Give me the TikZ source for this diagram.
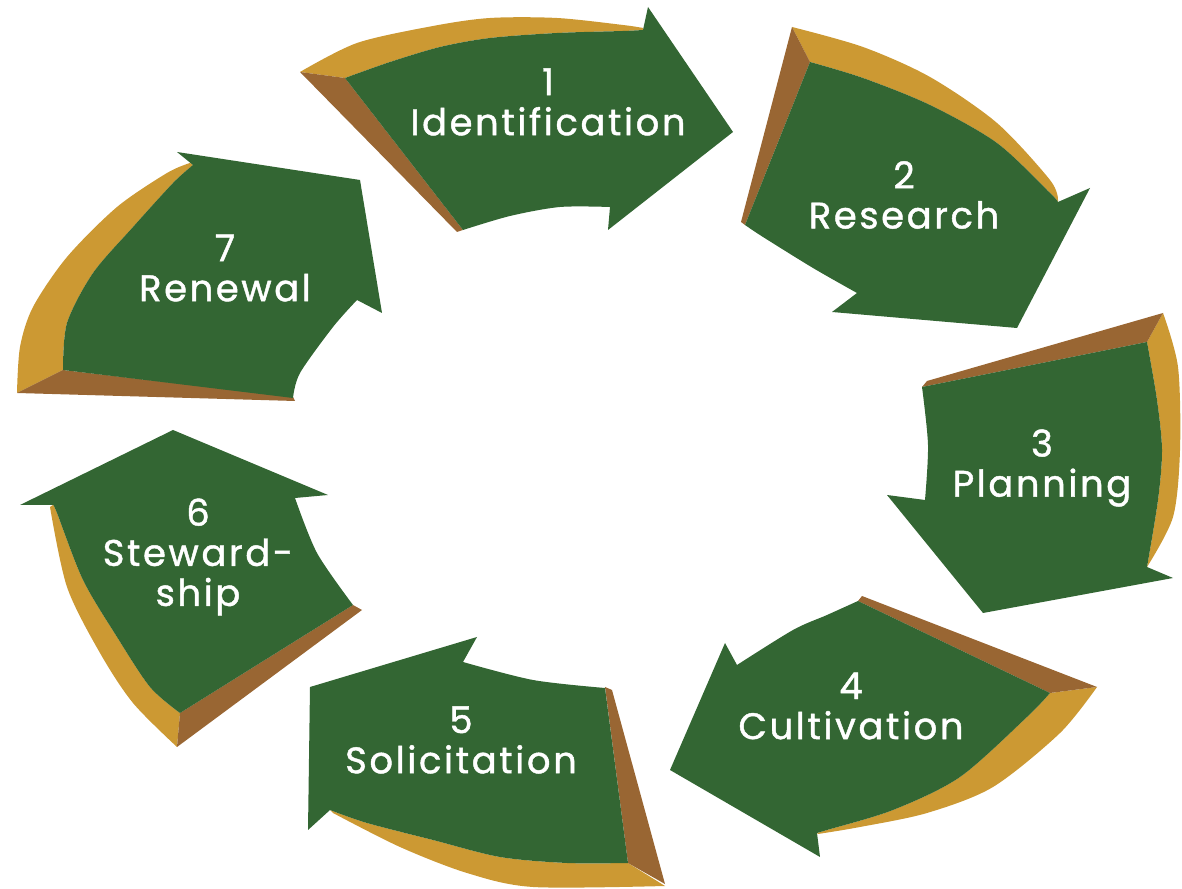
\documentclass[tikz,border=0pt]{standalone}
\usepackage{fontspec}
\usepackage{xcolor}
\newfontfamily\etiqfont{Poppins}[LetterSpace=7,FakeBold=1.2]
\definecolor{verde}{RGB}{51,102,51}
\definecolor{oro}{RGB}{204,153,51}
\definecolor{cafe}{RGB}{153,102,51}

\begin{document}
\begin{tikzpicture}[x=0.01cm, y=-0.01cm,
        cara/.style={fill=verde},
        borde/.style={fill=oro},
        cola/.style={fill=cafe},
        etiq/.style={text=white, align=center, inner sep=0pt,
          font=\etiqfont\fontsize{10.5}{11.4}\selectfont}]
      \useasboundingbox (0,0) rectangle (1182,889);
      % Flecha 1: lado exterior, cola y cara
      \fill[borde] plot[smooth] coordinates {(300,72) (357,43) (433,26) (490,18) (557,18) (623,25) (643,28)}
        -- plot[smooth] coordinates {(643,30) (623,31) (557,33) (490,38) (440,47) (390,62) (345,78)} -- cycle;
      \fill[cola] (300,72) -- (345,78) -- (463,230) -- (457,232) -- cycle;
      \fill[cara] (345,78) -- plot[smooth] coordinates {(345,78) (390,62) (440,47) (490,38) (557,33) (623,31) (643,30)}
        -- (648,7) -- (733,132) -- (608,230) -- (610,207)
        -- plot[smooth] coordinates {(610,207) (560,207) (510,216) (463,230)} -- cycle;
      % Flecha 2
      \fill[borde] plot[smooth] coordinates {(792,27) (863,47) (930,77) (997,123) (1050,180) (1058,200)}
        -- plot[smooth] coordinates {(1058,202) (1050,193) (997,143) (930,105) (863,78) (810,62)} -- cycle;
      \fill[cola] (792,27) -- (810,62) -- (745,225) -- (741,222) -- cycle;
      \fill[cara] (810,62) -- plot[smooth] coordinates {(810,62) (863,78) (930,105) (997,143) (1050,193) (1058,202)}
        -- (1090,188) -- (1017,328) -- (832,312) -- (857,293)
        -- plot[smooth] coordinates {(857,293) (813,268) (763,237) (745,225)} -- cycle;
      % Flecha 3
      \fill[borde] plot[smooth] coordinates {(1163,313) (1178,367) (1180,450) (1173,517) (1147,567)}
        -- plot[smooth] coordinates {(1147,567) (1158,500) (1162,450) (1157,400) (1147,342)} -- cycle;
      \fill[cola] (927,381) -- (1163,313) -- (1147,342) -- (922,387) -- cycle;
      \fill[cara] (922,387) -- plot[smooth] coordinates {(1147,342) (1157,400) (1162,450) (1158,500) (1147,567)}
        -- (1173,578) -- (983,613) -- (887,495) -- (925,500)
        -- plot[smooth] coordinates {(925,500) (928,445) (922,387)} -- cycle;
      % Flecha 4
      \fill[borde] plot[smooth] coordinates {(1097,687) (1060,733) (993,787) (927,813) (860,827) (818,834)}
        -- plot[smooth] coordinates {(817,833) (827,830) (893,810) (960,777) (1027,717) (1050,693)} -- cycle;
      \fill[cola] (862,596) -- (1097,687) -- (1050,693) -- (858,601) -- cycle;
      \fill[cara] (858,601) -- (1050,693)
        -- plot[smooth] coordinates {(1050,693) (1027,717) (960,777) (893,810) (827,830) (817,833)}
        -- (820,857) -- (670,770) -- (725,643) -- (737,665)
        -- plot[smooth] coordinates {(737,665) (793,630) (827,615) (858,601)} -- cycle;
      % Flecha 5
      \fill[borde] plot[smooth] coordinates {(665,886) (533,887) (467,873) (400,847) (333,813)}
        -- plot[smooth] coordinates {(330,810) (367,823) (433,840) (500,857) (567,863) (628,863)} -- cycle;
      \fill[cola] (605,687) -- (612,690) -- (665,884) -- (628,863) -- cycle;
      \fill[cara] (605,688) -- (628,863)
        -- plot[smooth] coordinates {(628,863) (567,863) (500,857) (433,840) (367,823) (330,810)}
        -- (308,830) -- (310,687) -- (477,637) -- (463,662)
        -- plot[smooth] coordinates {(463,662) (533,680) (605,688)} -- cycle;
      % Flecha 6
      \fill[borde] plot[smooth] coordinates {(177,747) (133,703) (100,653) (67,587) (50,507)}
        -- plot[smooth] coordinates {(53,505) (57,513) (83,580) (117,637) (150,687) (180,713)} -- cycle;
      \fill[cola] (180,713) -- (353,605) -- (362,610) -- (177,747) -- cycle;
      \fill[cara] (53,505) -- (20,505) -- (173,430) -- (328,495) -- (295,498)
        -- plot[smooth] coordinates {(295,498) (317,553) (353,605)} -- (180,713)
        -- plot[smooth] coordinates {(180,713) (150,687) (117,637) (83,580) (57,513) (53,505)} -- cycle;
      % Flecha 7
      \fill[borde] plot[smooth] coordinates {(17,393) (20,347) (33,307) (67,257) (117,207) (167,173) (190,163)}
        -- plot[smooth] coordinates {(193,165) (173,183) (133,227) (93,273) (67,323) (63,370)} -- cycle;
      \fill[cola] (63,370) -- (293,397) -- (295,401) -- (17,393) -- cycle;
      \fill[cara] (63,370) -- plot[smooth] coordinates {(63,370) (67,323) (93,273) (133,227) (173,183) (193,165)}
        -- (177,152) -- (360,180) -- (382,313) -- (357,300)
        -- plot[smooth] coordinates {(357,300) (333,327) (300,373) (293,398)} -- cycle;
      % Etiquetas
      \node[etiq] (ident) at (548,102) {1\\Identification};
      \node[etiq] (research) at (904,195) {2\\Research};
      \node[etiq] (planning) at (1042,468) {3\\Planning};
      \node[etiq] (cultiv) at (851,706) {4\\Cultivation};
      \node[etiq] (solicit) at (461,740) {5\\Solicitation};
      \node[etiq] (steward) at (198,557) {6\\Steward-\\ship};
      \node[etiq] (renewal) at (225,268) {7\\Renewal};
    \end{tikzpicture}
\end{document}
